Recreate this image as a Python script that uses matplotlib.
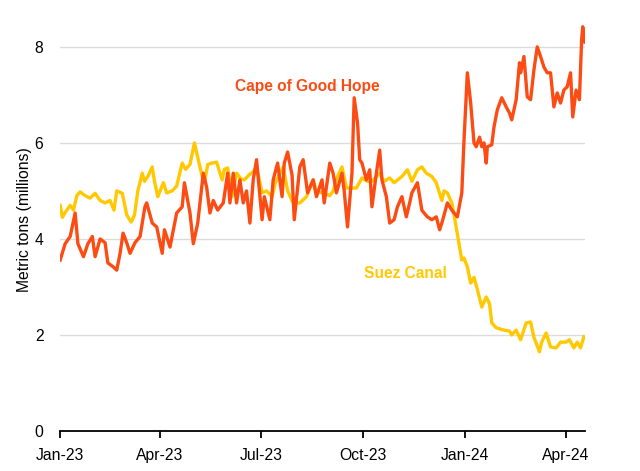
import numpy as np
import pandas as pd
import matplotlib
matplotlib.use("Agg")
import matplotlib.pyplot as plt
import matplotlib.dates as mdates

plt.rcParams['font.family'] = ['Liberation Sans', 'DejaVu Sans']

# days since 2023-01-01 and values (million metric tons)
cape_days = [0, 4.5, 9, 13.5, 16, 21, 25, 29, 31.5, 36, 40.5, 43, 47.7, 51, 54, 56.7, 60, 63, 67.4, 72,
             76.4, 78, 83, 87, 92, 94, 99, 105, 110, 112, 117, 120, 124, 129, 132, 135, 138, 142, 147, 151,
             153, 156, 159, 162, 165, 168, 171, 174, 177, 182, 184, 189, 192, 196, 200, 202, 205, 209, 211, 216,
             219, 223, 228, 231, 236, 238, 243, 246, 249, 254, 256, 259, 263, 265, 268, 270, 272, 276, 279, 281,
             285, 288, 290, 294, 297, 301, 304, 308, 312, 315, 317, 322, 326, 328, 331, 335, 339, 342, 344, 349,
             353, 355, 358, 362, 364, 367, 370, 373, 375, 378, 380, 382, 384, 385, 389, 391, 394, 398, 402, 405,
             407, 411, 414, 415, 418, 421, 424, 427, 430, 433, 436, 439, 442, 445, 448, 451, 454, 457, 460, 462,
             465, 468, 470, 471, 473]
cape_vals = [3.56, 3.9, 4.05, 4.54, 3.9, 3.63, 3.9, 4.05, 3.63, 4.0, 3.92, 3.5, 3.42, 3.35, 3.7, 4.12, 3.92, 3.7, 3.92, 4.05,
             4.67, 4.75, 4.33, 4.25, 3.7, 4.19, 3.83, 4.54, 4.67, 5.17, 4.54, 3.9, 4.33, 5.37, 5.08, 4.54, 4.8, 4.6, 4.75, 5.37,
             4.75, 5.37, 4.75, 5.23, 4.75, 5.0, 4.33, 5.23, 5.65, 4.4, 4.88, 4.4, 5.23, 5.58, 4.88, 5.58, 5.81, 5.33, 4.4, 5.5,
             5.65, 4.96, 5.23, 4.88, 5.23, 4.75, 5.58, 5.37, 4.96, 5.37, 5.0, 4.25, 5.37, 6.94, 6.42, 5.65, 5.58, 5.23, 5.44, 4.67,
             5.37, 5.85, 5.23, 4.88, 4.33, 4.4, 4.67, 4.88, 4.46, 4.75, 4.96, 5.17, 4.6, 4.54, 4.46, 4.4, 4.46, 4.19, 4.33, 4.75,
             4.6, 4.54, 4.46, 4.96, 6.06, 7.46, 6.83, 6.0, 5.92, 6.12, 5.92, 6.0, 5.58, 5.92, 5.96, 6.33, 6.69, 6.94, 6.75, 6.62,
             6.48, 6.9, 7.67, 7.46, 7.8, 6.96, 6.9, 7.52, 8.0, 7.8, 7.58, 7.46, 7.46, 6.75, 7.04, 6.83, 7.1, 7.17, 7.46, 6.54,
             7.1, 6.9, 8.15, 8.42, 8.1]

suez_days = [0, 2, 4.5, 9, 12, 15, 18, 22.5, 27, 31.5, 36, 40.5, 45, 48.5, 51, 56, 60, 64, 67, 70,
             74, 76, 79, 83, 85, 88, 93, 96, 101, 105, 110, 113, 117, 121, 126, 129, 130, 133, 137, 141,
             146, 148, 151, 155, 159, 163, 166, 171, 174, 177, 182, 186, 191, 194, 201, 205, 210, 216, 222, 228,
             231, 236, 238, 243, 246, 250, 254, 258, 263, 267, 272, 277, 281, 288, 292, 297, 301, 308, 313, 317,
             322, 326, 330, 335, 339, 344, 346, 349, 353, 355, 358, 362, 364, 367, 370, 373, 376, 380, 384, 387,
             389, 393, 397, 400, 405, 407, 411, 415, 420, 424, 427, 432, 434, 438, 442, 447, 451, 456, 459, 463,
             466, 469, 472]
suez_vals = [4.7, 4.45, 4.55, 4.7, 4.6, 4.9, 4.98, 4.9, 4.85, 4.95, 4.8, 4.75, 4.8, 4.6, 5.0, 4.95, 4.5, 4.35, 4.5, 5.0,
             5.37, 5.2, 5.3, 5.5, 5.2, 4.88, 5.17, 4.96, 5.0, 5.1, 5.58, 5.45, 5.55, 6.0, 5.5, 5.2, 5.17, 5.55, 5.58, 5.6,
             5.23, 5.45, 5.48, 4.88, 5.37, 5.25, 5.23, 5.35, 5.4, 5.5, 4.96, 5.0, 4.88, 5.17, 5.5, 5.0, 4.75, 4.75, 4.88, 5.23,
             5.0, 4.96, 4.96, 4.9, 5.0, 5.3, 5.5, 5.06, 5.06, 5.06, 5.27, 5.2, 5.2, 5.37, 5.2, 5.27, 5.17, 5.3, 5.44, 5.2,
             5.44, 5.5, 5.37, 5.3, 5.17, 4.8, 5.0, 4.96, 4.75, 4.5, 4.1, 3.56, 3.6, 3.42, 3.08, 3.2, 2.95, 2.58, 2.79, 2.65,
             2.25, 2.15, 2.12, 2.1, 2.08, 2.0, 2.1, 1.9, 2.25, 2.27, 1.95, 1.65, 1.85, 2.04, 1.75, 1.73, 1.85, 1.85, 1.9, 1.73,
             1.85, 1.73, 1.96]

start = pd.Timestamp('2023-01-01')
cape_dates = start + pd.to_timedelta(cape_days, unit='D')
suez_dates = start + pd.to_timedelta(suez_days, unit='D')

orange = '#fc4c14'
yellow = '#ffc800'

fig = plt.figure(figsize=(6.4, 4.71), dpi=100)
ax = fig.add_axes([0.094, 0.085, 0.82, 0.897])

ax.plot(suez_dates, suez_vals, color=yellow, lw=2.4, solid_joinstyle='round')
ax.plot(cape_dates, cape_vals, color=orange, lw=2.4, solid_joinstyle='round')

ax.text(pd.Timestamp('2023-08-12'), 7.17, 'Cape of Good Hope', color=orange,
        fontsize=11.2, fontweight='bold', ha='center', va='center')
ax.text(pd.Timestamp('2023-11-08'), 3.29, 'Suez Canal', color=yellow,
        fontsize=11.2, fontweight='bold', ha='center', va='center')

ax.set_ylim(0, 8.8)
ax.set_yticks([0, 2, 4, 6, 8])
ax.set_xlim(start, start + pd.Timedelta(days=473))
ax.xaxis.set_major_locator(mdates.MonthLocator(bymonth=[1, 4, 7, 10]))
ax.xaxis.set_major_formatter(mdates.DateFormatter('%b-%y'))

ax.grid(axis='y', color='#dcdcdc', lw=1)
ax.set_axisbelow(True)
for s in ['top', 'right', 'left']:
    ax.spines[s].set_visible(False)
ax.spines['bottom'].set_color('black')
ax.spines['bottom'].set_linewidth(1.3)
ax.tick_params(axis='y', length=0, pad=12, labelsize=11.3)
ax.tick_params(axis='x', length=5, width=1.3, direction='out', labelsize=11.3, pad=7)

ax.set_ylabel('Metric tons (millions)', fontsize=11.3, labelpad=2)

fig.savefig('out.png', dpi=100)
